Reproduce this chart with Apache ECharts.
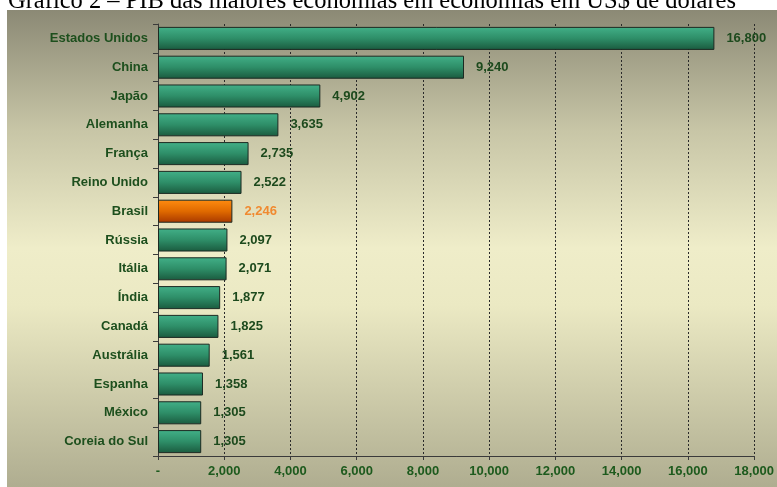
<!DOCTYPE html>
<html>
<head>
<meta charset="utf-8">
<script src="https://cdn.jsdelivr.net/npm/echarts@6/dist/echarts.min.js"></script>
<style>
html,body{margin:0;padding:0;background:#fff;}
#c{width:777px;height:487px;}
</style>
</head>
<body>
<div id="c"></div>
<script>
var titleText = 'Gráfico 2 – PIB das maiores economias em economias em US$ de dólares';
var categories = ['Estados Unidos','China','Japão','Alemanha','França','Reino Unido','Brasil','Rússia','Itália','Índia','Canadá','Austrália','Espanha','México','Coreia do Sul'];
var values = [16800, 9240, 4902, 3635, 2735, 2522, 2246, 2097, 2071, 1877, 1825, 1561, 1358, 1305, 1305];
var highlight = 'Brasil';

function fmt(v){ return v === 0 ? '-' : String(v).replace(/\B(?=(\d{3})+(?!\d))/g, ','); }

var greenFill = new echarts.graphic.LinearGradient(0,0,0,1,[{offset:0,color:'#42b088'},{offset:0.5,color:'#2e8e68'},{offset:1,color:'#1a5a3e'}]);
var orangeFill = new echarts.graphic.LinearGradient(0,0,0,1,[{offset:0,color:'#ff8c10'},{offset:0.5,color:'#e06a00'},{offset:1,color:'#a83800'}]);

var chart = echarts.init(document.getElementById('c'));
chart.setOption({
  animation:false,
  backgroundColor:'#ffffff',
  graphic:[{
    type:'rect', z:-10, silent:true,
    shape:{x:7,y:10,width:770,height:477},
    style:{fill:new echarts.graphic.LinearGradient(0,0,0,1,[
      {offset:0,color:'#8b8975'},{offset:0.25,color:'#c7c5a6'},{offset:0.5,color:'#efedc9'},{offset:0.62,color:'#ebe9c3'},{offset:1,color:'#afad90'}])}
  }],
  title:{text:titleText,left:3,top:-16,z:-11,textStyle:{fontFamily:'Liberation Serif',fontWeight:'normal',fontSize:24.5,color:'#000'}},
  grid:{left:158,right:19,top:24,bottom:31,containLabel:false},
  xAxis:{
    type:'value',min:0,max:18000,interval:2000,
    axisLine:{show:true,lineStyle:{color:'#3a3a3a',width:1}},
    axisTick:{show:true,length:4,lineStyle:{color:'#3a3a3a'}},
    axisLabel:{formatter:fmt,color:'#1d5a1d',fontFamily:'Liberation Sans',fontWeight:'bold',fontSize:13,margin:9},
    splitLine:{show:true,lineStyle:{color:'#2a2a2a',type:[2,2],width:1}}
  },
  yAxis:{
    type:'category',data:categories,inverse:true,
    axisLine:{show:true,lineStyle:{color:'#3a3a3a',width:1}},
    axisTick:{show:true,length:5,lineStyle:{color:'#3a3a3a'}},
    axisLabel:{color:'#1d4f1d',fontFamily:'Liberation Sans',fontWeight:'bold',fontSize:13,margin:10}
  },
  series:[{
    type:'bar',barCategoryGap:'20%',
    data:values.map(function(v,i){
      var hi = categories[i]===highlight;
      return {value:v,itemStyle:{color:hi?orangeFill:greenFill,borderColor:'#1c2a22',borderWidth:1},
        label:{color:hi?'#f08a30':'#1d4a1d'}};
    }),
    label:{show:true,position:'right',distance:12,formatter:function(p){return fmt(p.value);},fontFamily:'Liberation Sans',fontWeight:'bold',fontSize:13}
  }]
});
</script>
</body>
</html>
